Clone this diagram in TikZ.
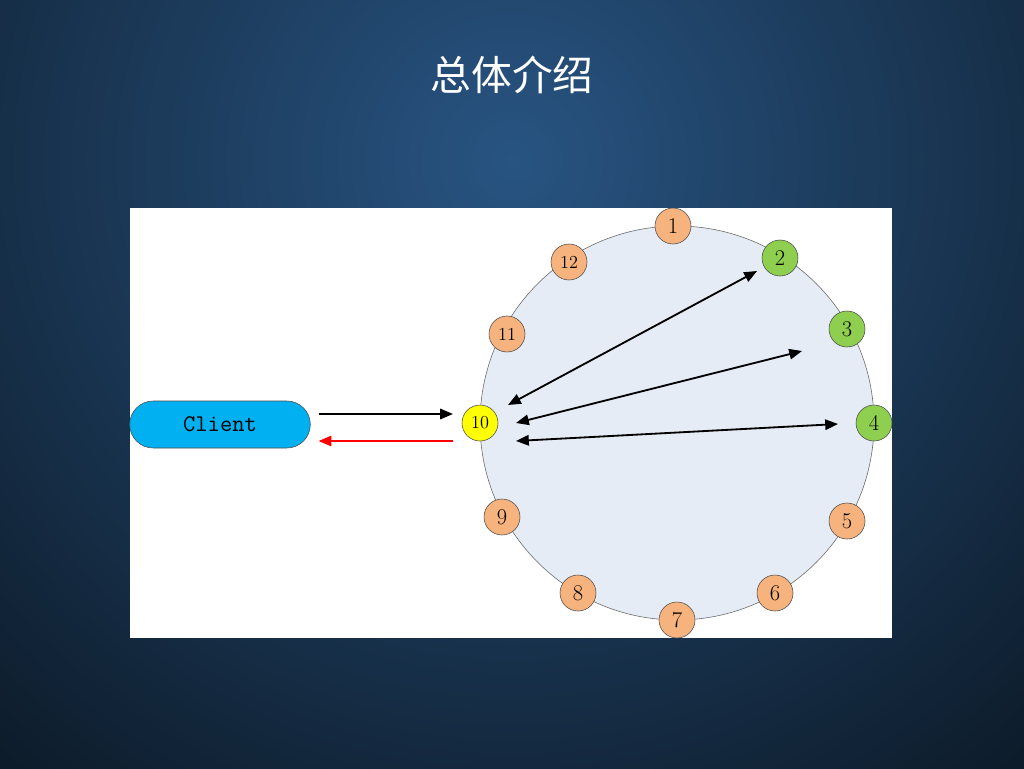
\documentclass[tikz,border=0pt]{standalone}
\usepackage{fontspec}
\newfontfamily\cjkfont{Noto Sans CJK SC}
\usetikzlibrary{arrows.meta,shapes.misc}

\definecolor{bgdark}{HTML}{0A1520}
\definecolor{bglight}{HTML}{285482}
\definecolor{ringfill}{HTML}{E6ECF6}
\definecolor{nodeorange}{HTML}{F6B37E}
\definecolor{nodegreen}{HTML}{8FCF4F}
\definecolor{nodeyellow}{HTML}{FFFF00}
\definecolor{clientblue}{HTML}{00B0F0}

\tikzset{
  ringnode/.style={circle, draw=black!70, fill=#1, minimum size=9mm, inner sep=0pt},
  bignum/.style={font=\fontsize{16}{16}\selectfont},
  smallnum/.style={font=\fontsize{13}{13}\selectfont},
  flow/.style={line width=1.3pt, -{Triangle[length=3.2mm,width=2.6mm]}},
  twoway/.style={line width=1.3pt, {Triangle[length=3.2mm,width=2.6mm]}-{Triangle[length=3.2mm,width=2.6mm]}}
}

\begin{document}
\begin{tikzpicture}[x=0.25mm, y=-0.25mm]
	\useasboundingbox (0, 0) rectangle (1024, 768);
	\clip (0, 0) rectangle (1024, 768);
	\fill[bgdark](0, 0) rectangle (1024, 768); %背景
	\shade[inner color=bglight, outer color=bgdark](512, 160) circle [radius= 880];

	\node[text=white, font=\cjkfont\fontsize{29}{29}\selectfont] (title) at (512, 75) {总体介绍}; %标题

	\fill[white](130, 208) rectangle (892, 638); %白色面板
	\draw[black!60, fill=ringfill](677, 423) circle [radius= 197]; %环

	\foreach \k/\x/\y/\col in {1/673/226/nodeorange, 2/780/258/nodegreen, 3/847/329/nodegreen,
	                           4/874/423/nodegreen, 5/847/521/nodeorange, 6/775/593/nodeorange,
	                           7/677/620/nodeorange, 8/578/593/nodeorange, 9/502/517/nodeorange,
	                           10/480/423/nodeyellow, 11/507/334/nodeorange, 12/569/262/nodeorange}
		\node[ringnode=\col] (n\k) at (\x, \y) {};
	\foreach \k in {1,...,9}
		\node[bignum] at (n\k) {\k};
	\foreach \k in {10,11,12}
		\node[smallnum] at (n\k) {\k};

	\node[rounded rectangle, draw=black!70, fill=clientblue, minimum width=47.5mm, minimum height=11.75mm,
	      font=\ttfamily\fontsize{17}{17}\selectfont] (client) at (220, 424.5) {Client}; %客户端

	\coordinate (in10) at (453, 414); %请求
	\coordinate (out10) at (453, 441); %响应
	\draw[flow] ([xshift=2mm]client.east |- in10) -- (in10);
	\draw[flow, red] (out10) -- ([xshift=2mm]client.east |- out10);

	\coordinate (a2) at (508, 405);
	\coordinate (b2) at (757, 271);
	\coordinate (a3) at (516, 423);
	\coordinate (b3) at (802, 351);
	\coordinate (a4) at (516, 441);
	\coordinate (b4) at (838, 424);
	\draw[twoway] (a2) -- (b2); %10- 2
	\draw[twoway] (a3) -- (b3); %10- 3
	\draw[twoway] (a4) -- (b4); %10- 4
\end{tikzpicture}
\end{document}
